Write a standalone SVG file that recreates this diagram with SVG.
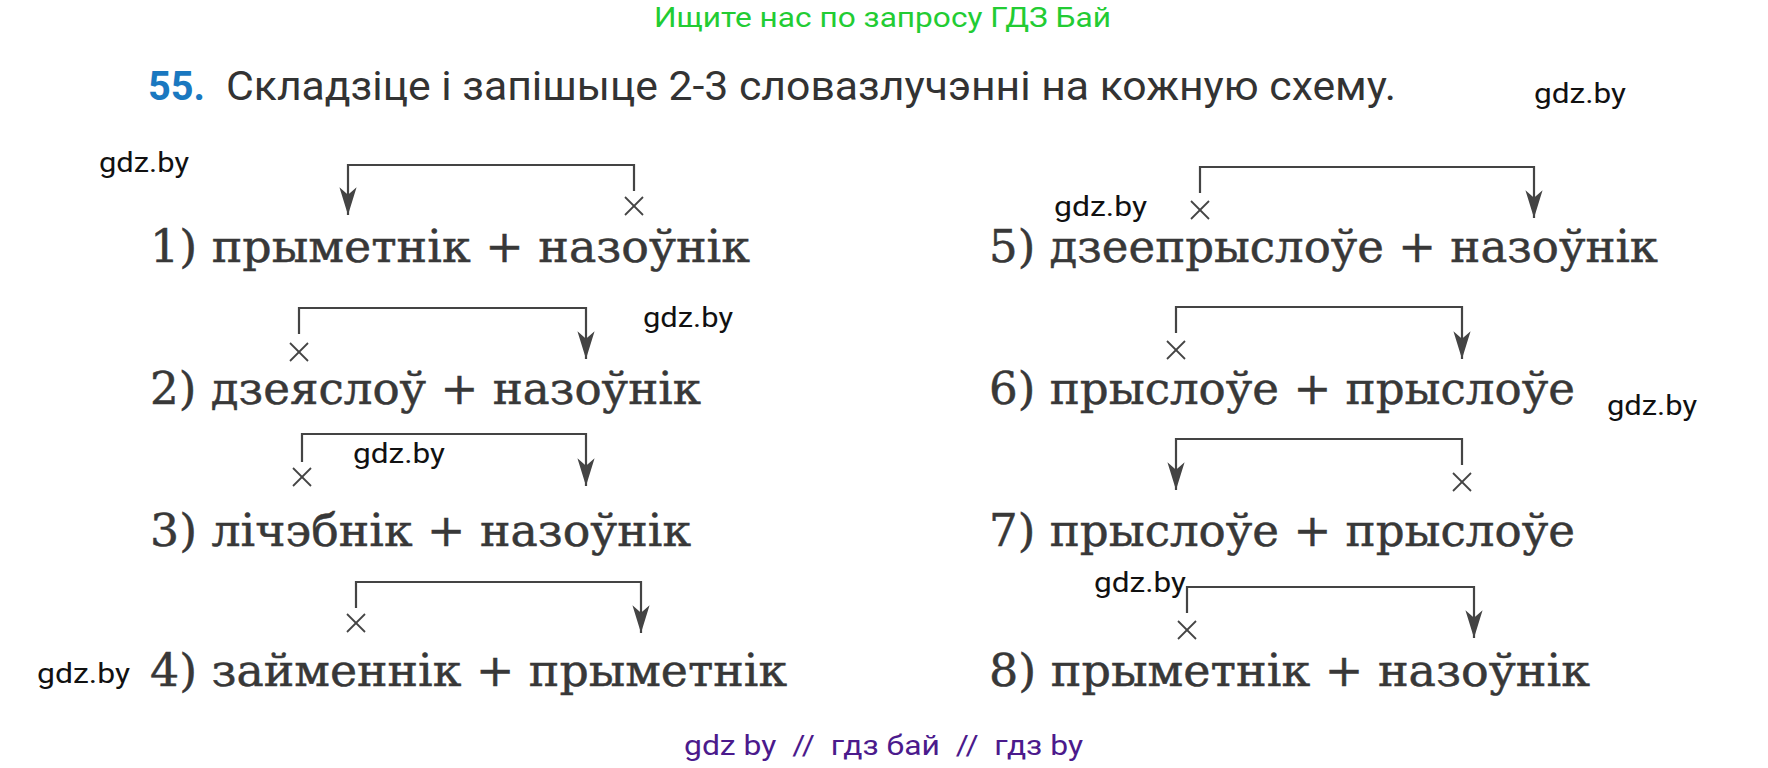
<svg xmlns="http://www.w3.org/2000/svg" width="1768" height="768" viewBox="0 0 1768 768">
<style>
.row{font-family:"DejaVu Serif","Liberation Serif",serif;font-size:44px;fill:#383838;stroke:#383838;stroke-width:0.5}
.wm{font-family:Roboto,"Liberation Sans",sans-serif;font-size:28px;fill:#111}
.con{fill:none;stroke:#444;stroke-width:2.2}
.x{stroke:#444;stroke-width:1.8}
</style>
<defs>
<marker id="ah" markerUnits="userSpaceOnUse" markerWidth="30" markerHeight="20" viewBox="-27 -9 28 18" refX="0" refY="0" orient="auto">
<path d="M0,0 L-26,-8 L-19,0 L-26,8 Z" fill="#444"/>
</marker>
<g id="cross"><line class="x" x1="-9" y1="-9" x2="9" y2="9"/><line class="x" x1="9" y1="-9" x2="-9" y2="9"/></g>
</defs>
<rect width="1768" height="768" fill="#fff"/>
<g id="header">
<text x="654" y="27" font-family="Roboto,'Liberation Sans',sans-serif" font-size="28" fill="#22cc33" textLength="457" lengthAdjust="spacingAndGlyphs">Ищите нас по запросу ГДЗ Бай</text>
<text x="148" y="100" font-family="Roboto,'Liberation Sans',sans-serif" font-size="40" font-weight="bold" fill="#1a78c0" textLength="57" lengthAdjust="spacingAndGlyphs">55.</text>
<text x="226" y="100" font-family="Roboto,'Liberation Sans',sans-serif" font-size="40" fill="#333" textLength="1170" lengthAdjust="spacingAndGlyphs">Складзіце і запішыце 2-3 словазлучэнні на кожную схему.</text>
</g>
<g id="connectors">
<path class="con" d="M634,191 V165 H348 V215" marker-end="url(#ah)"/>
<path class="con" d="M299,334 V308 H586 V359" marker-end="url(#ah)"/>
<path class="con" d="M302,462 V434 H586 V486" marker-end="url(#ah)"/>
<path class="con" d="M356,608 V582 H641 V633" marker-end="url(#ah)"/>
<path class="con" d="M1200,193 V167 H1534 V218" marker-end="url(#ah)"/>
<path class="con" d="M1176,333 V307 H1462 V359" marker-end="url(#ah)"/>
<path class="con" d="M1462,465 V439 H1176 V490" marker-end="url(#ah)"/>
<path class="con" d="M1187,613 V587 H1474 V638" marker-end="url(#ah)"/>
<use href="#cross" x="634" y="206"/>
<use href="#cross" x="299" y="352"/>
<use href="#cross" x="302" y="477"/>
<use href="#cross" x="356" y="623"/>
<use href="#cross" x="1200" y="210"/>
<use href="#cross" x="1176" y="350"/>
<use href="#cross" x="1462" y="482"/>
<use href="#cross" x="1187" y="630"/>
</g>
<g id="n1"><text class="row" x="150" y="262" textLength="600" lengthAdjust="spacingAndGlyphs">1) прыметнік + назоўнік</text></g>
<g id="n2"><text class="row" x="150" y="404" textLength="551" lengthAdjust="spacingAndGlyphs">2) дзеяслоў + назоўнік</text></g>
<g id="n3"><text class="row" x="150" y="546" textLength="541" lengthAdjust="spacingAndGlyphs">3) лічэбнік + назоўнік</text></g>
<g id="n4"><text class="row" x="150" y="686" textLength="637" lengthAdjust="spacingAndGlyphs">4) займеннік + прыметнік</text></g>
<g id="n5"><text class="row" x="989" y="262" textLength="669" lengthAdjust="spacingAndGlyphs">5) дзеепрыслоўе + назоўнік</text></g>
<g id="n6"><text class="row" x="989" y="404" textLength="586" lengthAdjust="spacingAndGlyphs">6) прыслоўе + прыслоўе</text></g>
<g id="n7"><text class="row" x="989" y="546" textLength="586" lengthAdjust="spacingAndGlyphs">7) прыслоўе + прыслоўе</text></g>
<g id="n8"><text class="row" x="989" y="686" textLength="601" lengthAdjust="spacingAndGlyphs">8) прыметнік + назоўнік</text></g>
<g id="watermarks">
<text class="wm" x="1534" y="103" textLength="92" lengthAdjust="spacingAndGlyphs">gdz.by</text>
<text class="wm" x="99" y="172" textLength="90" lengthAdjust="spacingAndGlyphs">gdz.by</text>
<text class="wm" x="643" y="327" textLength="90" lengthAdjust="spacingAndGlyphs">gdz.by</text>
<text class="wm" x="353" y="463" textLength="92" lengthAdjust="spacingAndGlyphs">gdz.by</text>
<text class="wm" x="37" y="683" textLength="93" lengthAdjust="spacingAndGlyphs">gdz.by</text>
<text class="wm" x="1054" y="216" textLength="93" lengthAdjust="spacingAndGlyphs">gdz.by</text>
<text class="wm" x="1607" y="415" textLength="90" lengthAdjust="spacingAndGlyphs">gdz.by</text>
<text class="wm" x="1094" y="592" textLength="92" lengthAdjust="spacingAndGlyphs">gdz.by</text>
<text x="684" y="755" font-family="Roboto,'Liberation Sans',sans-serif" font-size="28" fill="#4b1a8c" textLength="399" lengthAdjust="spacingAndGlyphs" xml:space="preserve">gdz by  //  гдз бай  //  гдз by</text>
</g>
</svg>
